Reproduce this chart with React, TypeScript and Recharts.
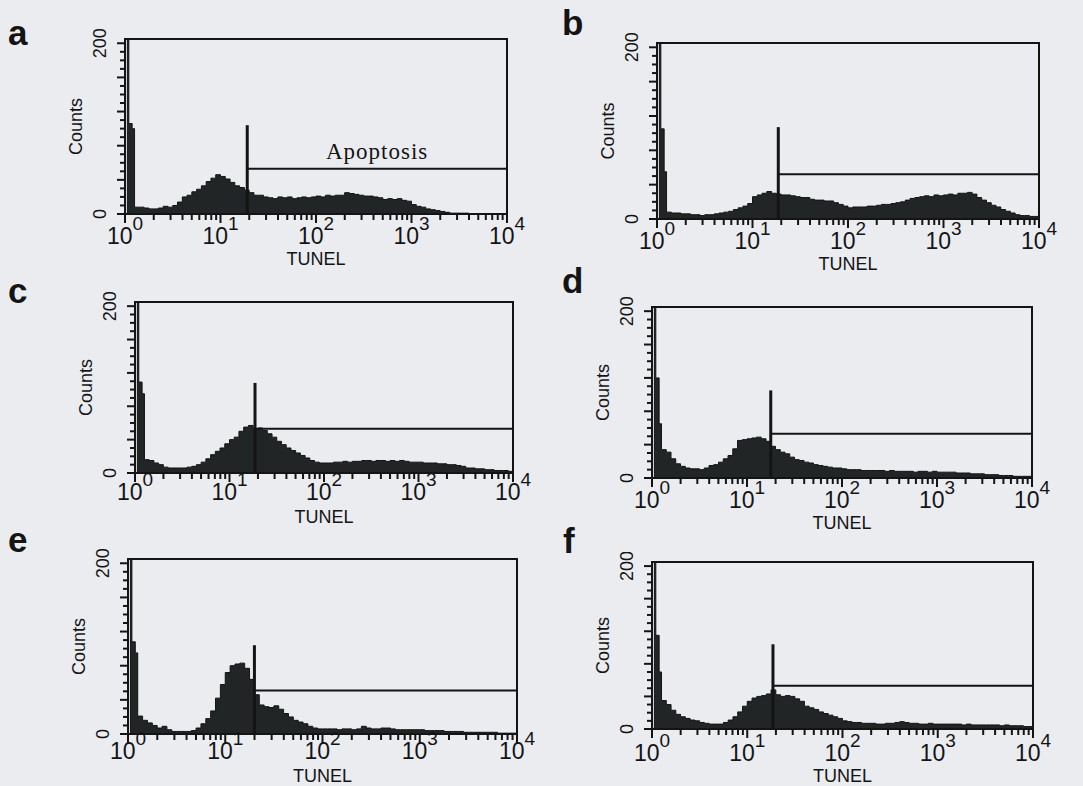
import { ComposedChart, Area, XAxis, YAxis, ReferenceLine, ReferenceArea, Label } from 'recharts';

const panelLetters = ['a', 'b', 'c', 'd', 'e', 'f'];
const decadeLabels = ['0', '1', '2', '3', '4'];
const countTicks = [0, 10, 20, 30, 40, 50, 60, 70, 80, 90, 100, 110, 120, 130, 140, 150, 160, 170, 180, 190, 200];
const labelledCounts = [0, 200];
const xTitle = 'TUNEL';
const yTitle = 'Counts';

// counts per bin, 20 bins per decade from 10^0 to 10^4
const countsA = [
  106, 100, 8, 8, 7, 6, 6, 7, 9, 8,
  10, 14, 20, 22, 26, 29, 33, 38, 42, 46,
  44, 41, 37, 33, 31, 28, 25, 22, 22, 20,
  19, 18, 20, 19, 20, 18, 19, 20, 19, 20,
  21, 20, 22, 21, 22, 22, 25, 24, 23, 22,
  21, 21, 20, 19, 17, 18, 17, 18, 16, 15,
  11, 9, 8, 6, 5, 4, 3, 2, 1, 1,
  1, 1, 0, 0, 0, 0, 0, 0, 0, 0,
];
const countsB = [
  105, 55, 8, 7, 7, 6, 6, 5, 5, 4,
  5, 5, 6, 7, 8, 9, 11, 13, 15, 18,
  26, 28, 30, 32, 30, 29, 28, 28, 27, 26,
  25, 25, 23, 22, 22, 21, 21, 19, 17, 15,
  13, 14, 14, 14, 15, 15, 16, 17, 17, 18,
  19, 20, 22, 24, 25, 26, 27, 26, 28, 27,
  28, 29, 28, 30, 30, 31, 29, 25, 22, 19,
  16, 14, 11, 9, 7, 5, 4, 4, 3, 3,
];
const countsC = [
  109, 95, 16, 15, 12, 10, 7, 6, 6, 6,
  6, 7, 8, 10, 13, 17, 22, 26, 30, 35,
  40, 43, 50, 55, 57, 53, 54, 51, 47, 43,
  38, 34, 30, 27, 24, 21, 18, 15, 13, 12,
  12, 12, 13, 13, 14, 13, 14, 14, 15, 15,
  14, 15, 15, 14, 15, 14, 15, 14, 13, 13,
  13, 12, 12, 12, 11, 11, 10, 10, 9, 8,
  6, 6, 5, 5, 4, 4, 3, 3, 3, 2,
];
const countsD = [
  120, 65, 34, 31, 23, 17, 14, 12, 11, 11,
  10, 12, 15, 16, 19, 23, 27, 35, 45, 46,
  47, 48, 49, 47, 44, 38, 34, 31, 29, 25,
  22, 21, 19, 18, 16, 15, 14, 13, 12, 12,
  11, 10, 10, 10, 9, 9, 9, 9, 9, 8,
  9, 8, 8, 8, 8, 7, 8, 8, 7, 8,
  7, 7, 7, 7, 6, 6, 6, 5, 5, 5,
  4, 4, 4, 3, 3, 3, 2, 2, 2, 2,
];
const countsE = [
  108, 95, 21, 16, 13, 10, 7, 9, 5, 3,
  3, 3, 3, 4, 7, 12, 18, 27, 42, 58,
  72, 80, 82, 83, 77, 64, 46, 34, 32, 31,
  33, 29, 24, 20, 16, 14, 12, 9, 7, 6,
  6, 6, 6, 5, 6, 6, 5, 6, 9, 7,
  6, 6, 7, 7, 6, 5, 5, 5, 5, 5,
  5, 4, 4, 4, 4, 3, 3, 3, 3, 2,
  2, 2, 2, 2, 2, 2, 1, 1, 1, 1,
];
const countsF = [
  115, 70, 35, 30, 23, 18, 15, 13, 11, 10,
  8, 7, 6, 6, 6, 8, 11, 15, 21, 28,
  34, 38, 40, 41, 43, 48, 42, 40, 41, 40,
  37, 34, 28, 26, 24, 21, 19, 17, 15, 13,
  10, 9, 8, 8, 7, 7, 7, 6, 6, 7,
  7, 8, 9, 8, 7, 7, 6, 6, 7, 6,
  6, 6, 6, 6, 6, 5, 6, 5, 5, 5,
  5, 5, 5, 4, 5, 4, 4, 4, 3, 3,
];
const panelCounts = [countsA, countsB, countsC, countsD, countsE, countsF];

// off-scale first channel (clipped at the top of the frame)
const overflowCounts = [240, 240, 240, 240, 240, 240];

// apoptosis gate (x in decades of TUNEL)
const gateLog = [1.28, 1.27, 1.27, 1.25, 1.3, 1.27];
const gateTop = [104, 107, 108, 105, 104, 104];
const gateLevel = [53, 52, 53, 53, 51, 53];
const gateText = ['Apoptosis', '', '', '', '', ''];

const BINS_PER_DECADE = 20;
const Y_MAX = 205;

const INK = '#141414';
const FILL = '#222525';
const BG = '#eaecf0';
const SANS = '"Liberation Sans", Arial, sans-serif';

const layout = [
  { left: 125, top: 39, width: 382, height: 175, tickDy: 30, titleDy: 51, lx: 8, ly: 45 },
  { left: 657, top: 43, width: 382, height: 176, tickDy: 30, titleDy: 51, lx: 562, ly: 35 },
  { left: 135, top: 302, width: 378, height: 171, tickDy: 27, titleDy: 50, lx: 8, ly: 303 },
  { left: 652, top: 307, width: 380, height: 171, tickDy: 30, titleDy: 51, lx: 562, ly: 293 },
  { left: 128, top: 559, width: 389, height: 175, tickDy: 25, titleDy: 48, lx: 8, ly: 552 },
  { left: 652, top: 562, width: 381, height: 167, tickDy: 32, titleDy: 53, lx: 563, ly: 553 },
];

const xTicks: number[] = [];
decadeLabels.forEach((_, d) => {
  xTicks.push(d);
  if (d < 4) [2, 3, 4, 5, 6, 7, 8, 9].forEach((k) => xTicks.push(d + Math.log10(k)));
});

function buildRows(counts: number[], overflow: number) {
  const rows = [
    { x: 0, count: 0 },
    { x: 0.025, count: overflow },
    { x: 0.04, count: counts[0] },
    { x: 0.075, count: counts[1] },
  ];
  counts.forEach((c, i) => {
    if (i >= 2) rows.push({ x: i / BINS_PER_DECADE, count: c });
  });
  rows.push({ x: 4, count: counts[counts.length - 1] });
  return rows;
}

function DecadeTick({ x, y, payload, labelDy }: any) {
  const v = payload.value;
  const major = Math.abs(v - Math.round(v)) < 1e-6;
  return (
    <g>
      <line x1={x} x2={x} y1={y} y2={y + (major ? 9 : 6)} stroke={INK} strokeWidth={2} />
      {major && (
        <text x={x} y={y + labelDy} textAnchor="middle" fill={INK} fontFamily={SANS} fontSize={23}>
          10<tspan dy={-14} fontSize={19}>{decadeLabels[Math.round(v)]}</tspan>
        </text>
      )}
    </g>
  );
}

function CountTick({ x, y, payload }: any) {
  const v = payload.value;
  const long = v % 40 === 0;
  const lx = x - 25;
  return (
    <g>
      <line x1={x} x2={x - (long ? 8 : 5)} y1={y} y2={y} stroke={INK} strokeWidth={2} />
      {labelledCounts.includes(v) && (
        <text x={lx} y={y} transform={`rotate(-90 ${lx} ${y})`} textAnchor="middle" dominantBaseline="central"
          fill={INK} fontFamily={SANS} fontSize={18}>
          {v}
        </text>
      )}
    </g>
  );
}

function XTitle({ viewBox, dy }: any) {
  if (!viewBox) return null;
  const { x, y, width } = viewBox;
  return (
    <text x={x + width / 2} y={y + dy} textAnchor="middle" fill={INK} fontFamily={SANS} fontSize={18}>
      {xTitle}
    </text>
  );
}

function YTitle({ viewBox }: any) {
  if (!viewBox) return null;
  const { x, y, width, height } = viewBox;
  const cx = x + width - 49;
  const cy = y + height / 2;
  return (
    <text x={cx} y={cy} transform={`rotate(-90 ${cx} ${cy})`} textAnchor="middle" dominantBaseline="central"
      fill={INK} fontFamily={SANS} fontSize={18}>
      {yTitle}
    </text>
  );
}

function Histogram({ idx }: { idx: number }) {
  const box = layout[idx];
  const rows = buildRows(panelCounts[idx], overflowCounts[idx]);
  const gx = gateLog[idx];
  return (
    <div style={{ position: 'absolute', left: box.left - 100, top: box.top - 10 }}>
      <ComposedChart
        width={box.width + 130}
        height={box.height + 70}
        data={rows}
        margin={{ top: 10, right: 30, bottom: 0, left: 0 }}
      >
        <XAxis
          type="number"
          dataKey="x"
          domain={[0, 4]}
          ticks={xTicks}
          interval={0}
          allowDataOverflow
          tickSize={0}
          tickMargin={0}
          tickLine={false}
          axisLine={{ stroke: INK, strokeWidth: 2 }}
          height={60}
          tick={<DecadeTick labelDy={box.tickDy} />}
          label={<XTitle dy={box.titleDy} />}
        />
        <YAxis
          type="number"
          domain={[0, Y_MAX]}
          ticks={countTicks}
          interval={0}
          allowDataOverflow
          tickSize={0}
          tickMargin={0}
          tickLine={false}
          axisLine={{ stroke: INK, strokeWidth: 2 }}
          width={100}
          tick={<CountTick />}
          label={<YTitle />}
        />
        <ReferenceArea x1={0} x2={4} y1={0} y2={Y_MAX} fill="none" stroke={INK} strokeWidth={2} ifOverflow="visible" />
        <Area
          type="stepAfter"
          dataKey="count"
          stroke={INK}
          strokeWidth={1}
          fill={FILL}
          fillOpacity={1}
          dot={false}
          activeDot={false}
          isAnimationActive={false}
        />
        <ReferenceLine
          segment={[{ x: gx, y: 0 }, { x: gx, y: gateTop[idx] }]}
          stroke={INK}
          strokeWidth={3}
        />
        <ReferenceLine
          segment={[{ x: gx, y: gateLevel[idx] }, { x: 4, y: gateLevel[idx] }]}
          stroke={INK}
          strokeWidth={2}
        >
          {gateText[idx] && (
            <Label
              value={gateText[idx]}
              position="top"
              offset={10}
              fill={INK}
              fontSize={23}
              fontFamily='"Liberation Serif", serif'
              letterSpacing={1}
            />
          )}
        </ReferenceLine>
      </ComposedChart>
    </div>
  );
}

export default function App() {
  return (
    <div style={{ position: 'absolute', left: 0, top: 0, width: 1083, height: 786, background: BG, overflow: 'hidden' }}>
      {panelLetters.map((_, i) => (
        <Histogram key={i} idx={i} />
      ))}
      <svg width={1083} height={786} style={{ position: 'absolute', left: 0, top: 0, pointerEvents: 'none' }}>
        {panelLetters.map((l, i) => (
          <text key={l} x={layout[i].lx} y={layout[i].ly} fill={INK} fontFamily={SANS} fontWeight="bold" fontSize={35}>
            {l}
          </text>
        ))}
      </svg>
    </div>
  );
}
